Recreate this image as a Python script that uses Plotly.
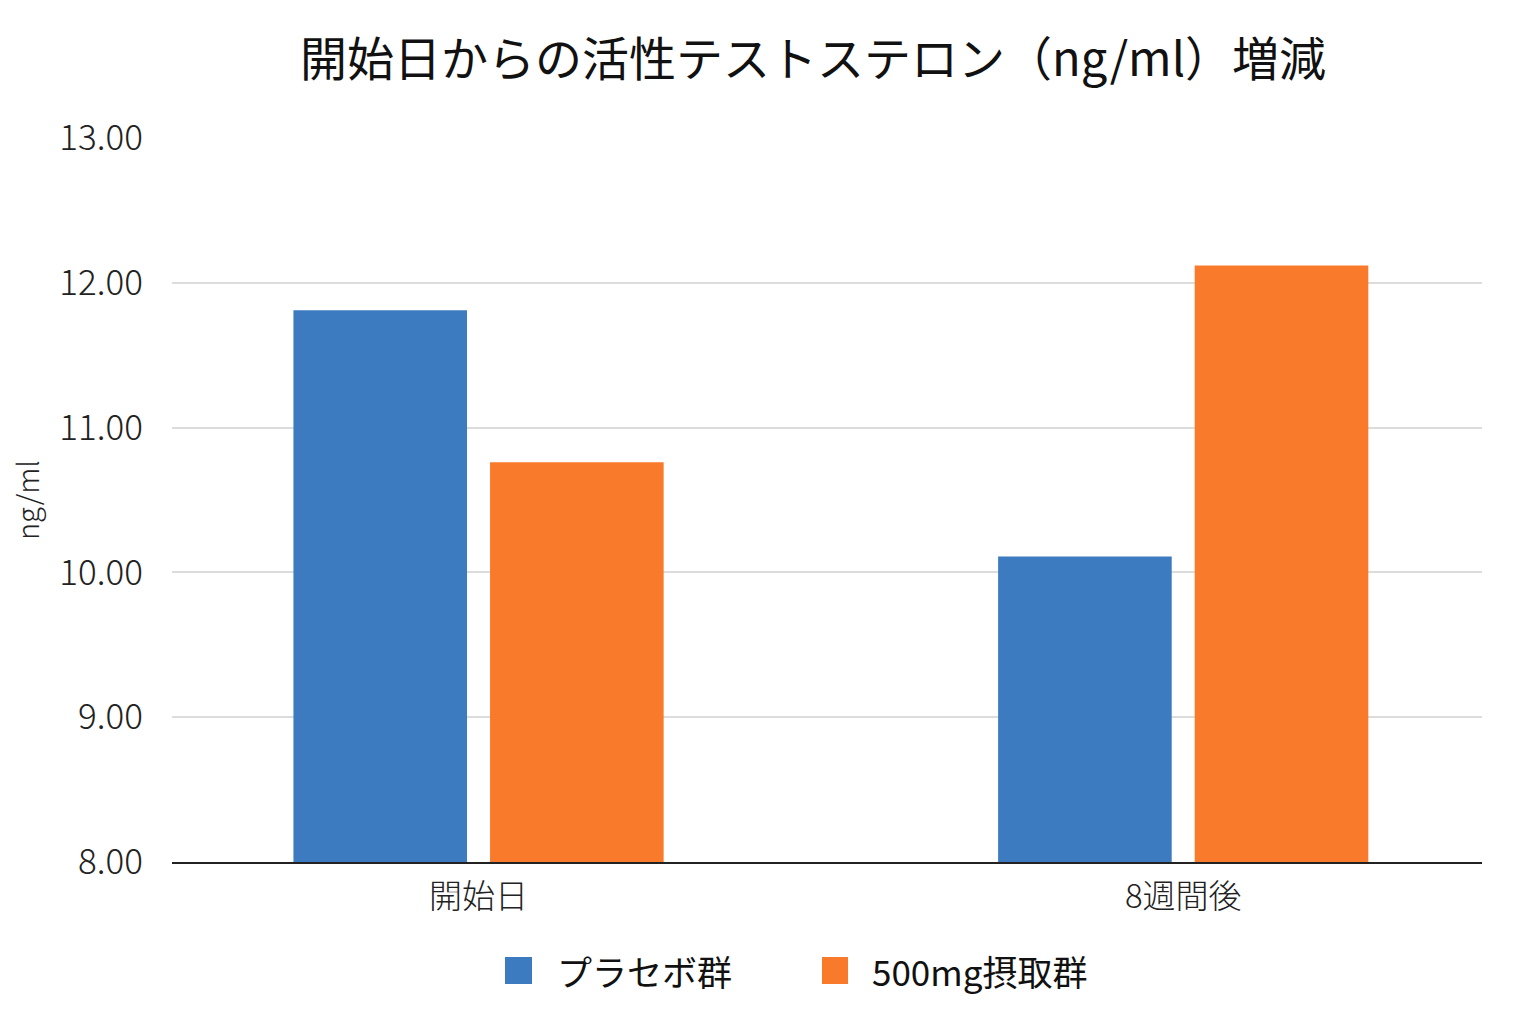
import plotly.graph_objects as go

categories = ["開始日", "8週間後"]
series_names = ["プラセボ群", "500mg摂取群"]
placebo = [11.81, 10.11]
dose500 = [10.76, 12.12]
series_values = [placebo, dose500]
colors = ["#3C7BBF", "#F97A2A"]
y_ticks = [8, 9, 10, 11, 12, 13]
y_tick_labels = ["8.00", "9.00", "10.00", "11.00", "12.00", "13.00"]

FONT = "Noto Sans CJK JP"

fig = go.Figure()
for name, vals, col in zip(series_names, series_values, colors):
    fig.add_trace(go.Bar(x=categories, y=vals, name=name, marker=dict(color=col, line=dict(width=0)),
                         showlegend=False))

# manual legend (large square swatches like the reference)
L, T, B, H = 172, 138, 862, 724
W = 1310
legend_items = [(505, 532, 555), (822, 848, 870)]
for (x0, x1, tx), name, col in zip(legend_items, series_names, colors):
    fig.add_shape(type="rect", xref="paper", yref="paper",
                  x0=(x0 - L) / W, x1=(x1 - L) / W,
                  y0=(B - 957) / H, y1=(B - 984) / H,
                  fillcolor=col, line=dict(width=0))
    fig.add_annotation(xref="paper", yref="paper", x=(tx - L) / W, y=(B - 970) / H,
                       text=name, showarrow=False, xanchor="left", yanchor="middle",
                       font=dict(family=FONT, size=35, color="#111111", weight=400))

fig.update_layout(
    width=1536, height=1024,
    margin=dict(l=L, r=1536 - 1482, t=T, b=1024 - B),
    paper_bgcolor="white", plot_bgcolor="white",
    barmode="group", bargap=0.442, bargroupgap=0.117,
    title=dict(text="開始日からの活性テストステロン（ng/ml）増減", x=(813 - L) / W, xref="paper",
               xanchor="center", y=1 - 60 / 1024, yanchor="middle",
               font=dict(family=FONT, size=47, color="#111111", weight=400)),
    font=dict(family=FONT, color="#111111"),
    xaxis=dict(range=[-0.435, 1.424], showgrid=False, showline=True, linecolor="#222222", linewidth=2,
               ticks="", tickfont=dict(family=FONT, size=33, color="#222222", weight=300), ticklabelstandoff=4),
    yaxis=dict(range=[8, 13], tickvals=y_ticks, ticktext=y_tick_labels, showgrid=True,
               gridcolor="#DCDCDC", gridwidth=1.5, zeroline=False, showline=False, ticks="",
               tickfont=dict(family=FONT, size=35, color="#222222", weight=300), ticklabelstandoff=28,
               title=dict(text="ng/ml", font=dict(family=FONT, size=29, color="#222222", weight=300), standoff=11)),
)

fig.write_html("out.html")
